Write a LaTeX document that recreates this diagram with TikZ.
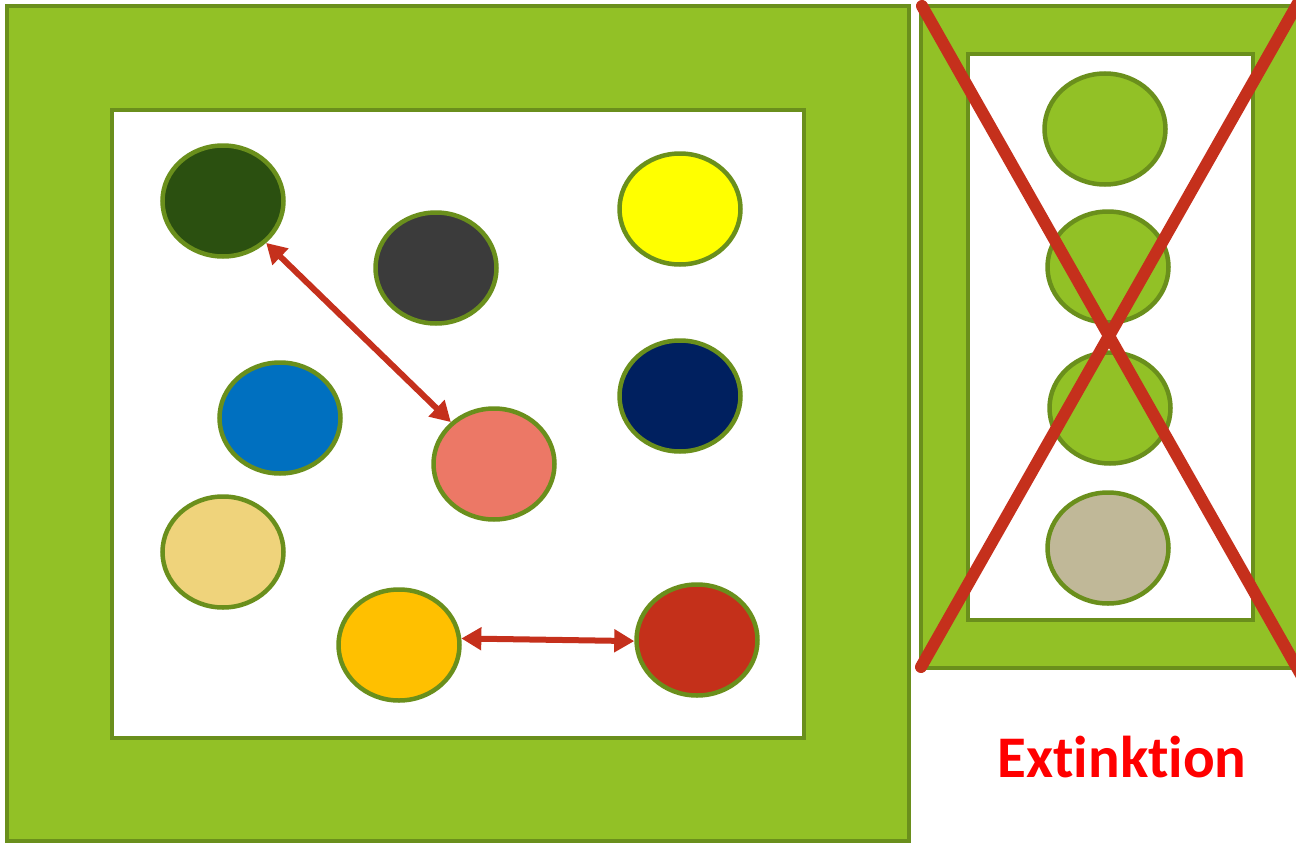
\documentclass[tikz,border=0pt]{standalone}
\usepackage{fontspec}
\setmainfont{Carlito}[Ligatures=NoCommon]
\usetikzlibrary{arrows.meta,
                shapes}
\definecolor{grass}{RGB}{146,193,38}
\definecolor{olive}{RGB}{106,143,28}
\definecolor{crossred}{RGB}{197,48,28}

\begin{document}
\begin{tikzpicture}[x=1pt,y=-1pt
                    ]
                % define styles
\tikzset{habitat/.style={draw=olive,
                       fill=grass,
                       line width=4.5pt,
                       },
         clearing/.style={draw=olive,
                       fill=white,
                       line width=4.5pt,
                       },
         species/.style={ellipse,
                       draw=olive,
                       line width=4.5pt,
                       inner sep=0,
                       minimum width=121pt,
                       minimum height=111pt,
                       },
         link/.style={crossred,
                       line width=6pt,
                       {Triangle[length=20pt,width=22pt]}-{Triangle[length=20pt,width=22pt]}}
}

\useasboundingbox (0,0) rectangle (1296,843);

% big habitat
\draw[habitat]  (7,6)   rectangle (909,841);
\draw[clearing] (112,110) rectangle (804,738);

% small habitat
\begin{scope}
    \clip (0,0) rectangle (1296,843);
    \draw[habitat]  (921,6)  rectangle (1310,668);
\end{scope}
\draw[clearing] (968,54) rectangle (1253,620);

% species
\definecolor{c1}{RGB}{43,80,16}
\definecolor{c2}{RGB}{59,59,59}
\definecolor{c3}{RGB}{255,255,0}
\definecolor{c4}{RGB}{0,32,95}
\definecolor{c5}{RGB}{0,112,192}
\definecolor{c6}{RGB}{236,120,102}
\definecolor{c7}{RGB}{239,211,123}
\definecolor{c8}{RGB}{255,192,0}
\definecolor{c9}{RGB}{196,48,26}
\definecolor{c10}{RGB}{192,184,152}
\foreach \name/\col/\x/\y in {dkgreen/c1/223/201, grey/c2/436/268,
                              yellow/c3/680/209, navy/c4/680/396,
                              blue/c5/280/418, salmon/c6/494/464,
                              tan/c7/223/552, gold/c8/399/645,
                              red/c9/697/640,
                              iso1/grass/1105/129, iso2/grass/1108/267,
                              iso3/grass/1110/408, iso4/c10/1108/548}
    \node[species,fill=\col] (\name) at (\x,\y) {};

% interactions
\draw[link] (dkgreen) -- (salmon);
\draw[link] (gold.6) -- (red.181);

% extinction cross
\coordinate (tl) at (922,6);
\coordinate (tr) at (1302,-4);
\coordinate (bl) at (921,667);
\coordinate (br) at (1304,680);
\begin{scope}
    \clip (0,0) rectangle (1296,843);
    \draw[crossred,line width=12pt,line cap=round] (tl) -- (br);
    \draw[crossred,line width=12pt,line cap=round] (bl) -- (tr);
\end{scope}

% label
\node[text=red,font=\bfseries\fontsize{59}{63}\selectfont] (extinct) at (1122,757) {Extinktion};

\end{tikzpicture}
\end{document}
